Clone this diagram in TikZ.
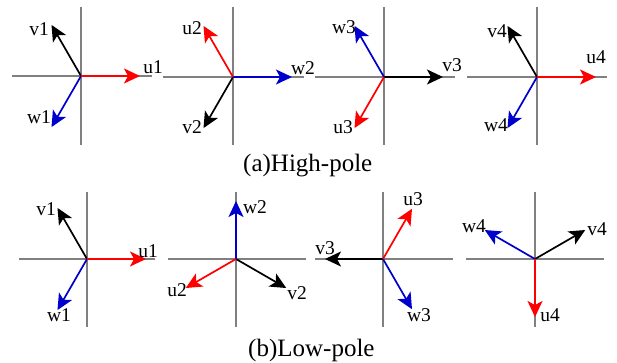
\documentclass[tikz,border=0pt]{standalone}
\usepackage{fontspec}
\setmainfont{Liberation Serif}
\usetikzlibrary{arrows.meta}
\definecolor{ured}{RGB}{255,0,0}
\definecolor{wblue}{RGB}{0,0,204}
\definecolor{axgray}{RGB}{128,128,128}
% panel axes: #1 name, #2 ox, #3 oy, #4 x left, #5 x right, #6 y top, #7 y bottom
\newcommand\mkpanel[7]{%
  \coordinate (o#1) at (#2,#3);
  \coordinate (hl#1) at (#4,#3);
  \coordinate (hr#1) at (#5,#3);
  \coordinate (vt#1) at (#2,#6);
  \coordinate (vb#1) at (#2,#7);
  \draw[axisline] (hl#1) -- (hr#1);
  \draw[axisline] (vt#1) -- (vb#1);
}
% vectors: #1 name, #2 length, #3 u angle, #4 v angle, #5 w angle (visual, counter-clockwise)
\newcommand\mkvecs[5]{%
  \coordinate (tu#1) at ([shift={(-#3:#2)}]o#1);
  \coordinate (tv#1) at ([shift={(-#4:#2)}]o#1);
  \coordinate (tw#1) at ([shift={(-#5:#2)}]o#1);
  \draw[vvec] (o#1) -- (tv#1);
  \draw[wvec] (o#1) -- (tw#1);
  \draw[uvec] (o#1) -- (tu#1);
}
\begin{document}
\begin{tikzpicture}[x=1pt,y=-1pt,
  axisline/.style={draw=axgray,line width=1.5pt},
  vec/.style={line width=1.7pt,-{Stealth[length=16pt,width=15pt,inset=4pt]}},
  uvec/.style={vec,draw=ured,fill=ured},
  vvec/.style={vec,draw=black,fill=black},
  wvec/.style={vec,draw=wblue,fill=wblue},
  lab/.style={inner sep=0pt,font=\fontsize{19.5}{19.5}\selectfont},
  captxt/.style={inner sep=0pt,anchor=west,font=\fontsize{25}{25}\selectfont}]
\useasboundingbox (0,0) rectangle (617,363);
% ---- (a) High-pole ----
\mkpanel{A1}{81}{76}{12}{152}{7}{145}
\mkpanel{A2}{233}{77}{163}{304}{7}{145}
\mkpanel{A3}{384}{77}{315}{455}{7}{145}
\mkpanel{A4}{537}{77}{467}{607}{7}{145}
\mkvecs{A1}{59}{0}{120}{240}
\mkvecs{A2}{59}{120}{240}{0}
\mkvecs{A3}{59}{240}{0}{120}
\mkvecs{A4}{59}{0}{120}{240}
\node[lab] (lvA1) at (39,29) {v1};
\node[lab] (luA1) at (153,67) {u1};
\node[lab] (lwA1) at (39,117) {w1};
\node[lab] (luA2) at (192,28) {u2};
\node[lab] (lwA2) at (303,68) {w2};
\node[lab] (lvA2) at (192,127) {v2};
\node[lab] (lwA3) at (344,27) {w3};
\node[lab] (lvA3) at (452,65) {v3};
\node[lab] (luA3) at (343,127) {u3};
\node[lab] (lvA4) at (497,31) {v4};
\node[lab] (luA4) at (596,57) {u4};
\node[lab] (lwA4) at (496,125) {w4};
\node[captxt] (capA) at (243,166) {(a)High-pole};
% ---- (b) Low-pole ----
\mkpanel{B1}{87}{259}{19}{155}{192}{327}
\mkpanel{B2}{236}{259}{168}{306}{192}{327}
\mkpanel{B3}{383}{259}{315}{453}{192}{327}
\mkpanel{B4}{535}{259}{466}{604}{192}{327}
\mkvecs{B1}{59}{0}{120}{240}
\mkvecs{B2}{58}{210}{330}{90}
\mkvecs{B3}{58}{60}{180}{300}
\mkvecs{B4}{58}{270}{30}{150}
\node[lab] (lvB1) at (46,209) {v1};
\node[lab] (luB1) at (148,251) {u1};
\node[lab] (lwB1) at (59,315) {w1};
\node[lab] (lwB2) at (255,207) {w2};
\node[lab] (luB2) at (177,290) {u2};
\node[lab] (lvB2) at (297,293) {v2};
\node[lab] (luB3) at (413,199) {u3};
\node[lab] (lvB3) at (325,248) {v3};
\node[lab] (lwB3) at (419,315) {w3};
\node[lab] (lwB4) at (474,226) {w4};
\node[lab] (lvB4) at (597,229) {v4};
\node[lab] (luB4) at (550,315) {u4};
\node[captxt] (capB) at (248,350) {(b)Low-pole};
\end{tikzpicture}
\end{document}
